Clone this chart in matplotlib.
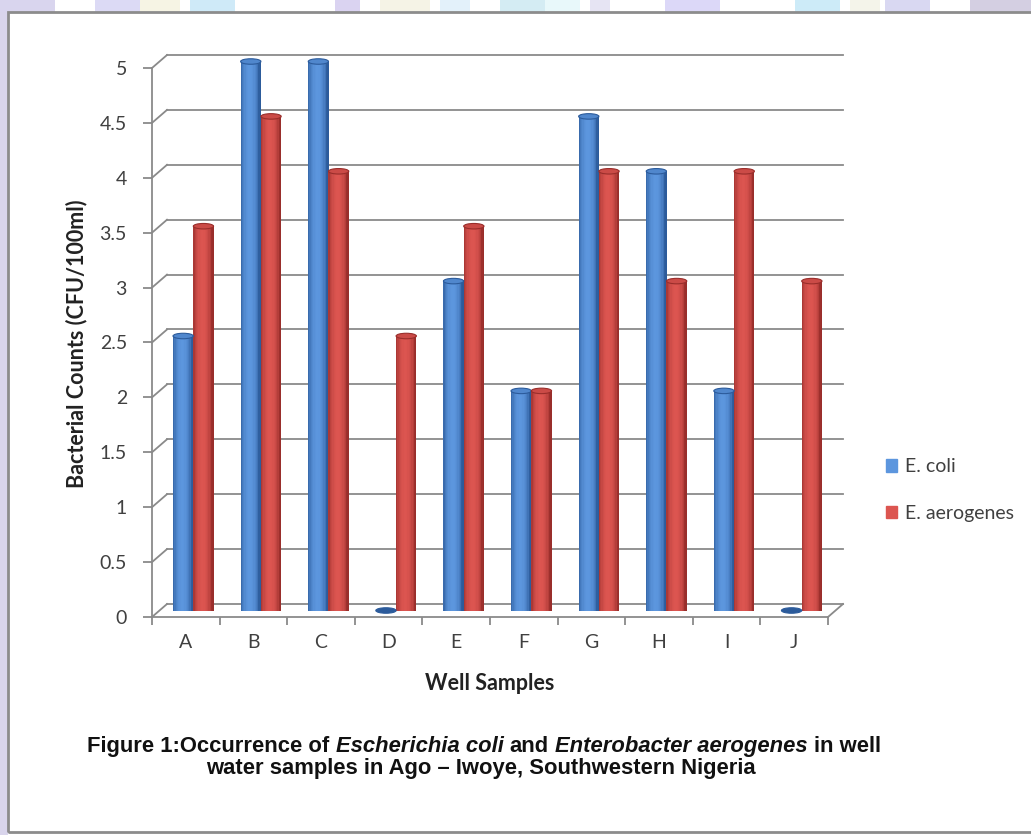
import numpy as np
import matplotlib.pyplot as plt
from matplotlib.colors import to_rgb
from matplotlib.patches import Ellipse, Rectangle, Patch
from matplotlib.transforms import Affine2D, IdentityTransform

# Bacterial counts per well (CFU/100ml)
wells = ['A', 'B', 'C', 'D', 'E', 'F', 'G', 'H', 'I', 'J']
e_coli = [2.5, 5, 5, 0, 3, 2, 4.5, 4, 2, 0]
e_aerogenes = [3.5, 4.5, 4, 2.5, 3.5, 2, 4, 3, 4, 3]
series_names = ['E. coli', 'E. aerogenes']
y_ticks = np.arange(0, 5.01, 0.5)
y_tick_labels = ['0', '0.5', '1', '1.5', '2', '2.5', '3', '3.5', '4', '4.5', '5']

W, H = 1031, 835
GRID = '#8a8a8a'
TXT = '#404040'
FONT = ['Lato', 'DejaVu Sans']

fig = plt.figure(figsize=(W / 100, H / 100), dpi=100)
fig.patch.set_facecolor('white')

# page decoration: pastel strip along the top and left edge, then the frame
stripes = [(0, 55, '#d9d5ee'), (95, 140, '#dcdaf5'), (140, 180, '#f6f4e4'),
           (190, 235, '#cfeaf8'), (335, 360, '#dad3f1'), (380, 430, '#f5f3e6'),
           (440, 470, '#e3f1fa'), (500, 545, '#d4ecf3'), (545, 580, '#e8f8fa'),
           (590, 610, '#e6e4f3'), (665, 720, '#dcd8f8'), (795, 840, '#cdebf8'),
           (850, 880, '#f4f4ea'), (885, 930, '#d9d8f2'), (970, 1031, '#d4cfe2')]
for x0, x1, c in stripes:
    fig.patches.append(Rectangle((x0 / W, 1 - 12 / H), (x1 - x0) / W, 12 / H,
                                 transform=fig.transFigure, color=c, lw=0))
fig.patches.append(Rectangle((0, 0), 8 / W, 1 - 12 / H, transform=fig.transFigure,
                             color='#d9d5ec', lw=0))
fig.patches.append(Rectangle((8 / W, 3 / H), 1.2, 1 - 15 / H, transform=fig.transFigure,
                             fill=False, ec='#8c8c8c', lw=2))

ax = fig.add_axes([152 / W, (H - 617) / H, 676 / W, 549 / H])
ax.set_xlim(-0.5, 9.5)
ax.set_ylim(0, 5)
ax.set_facecolor('none')
for s in ['top', 'right']:
    ax.spines[s].set_visible(False)
for s in ['left', 'bottom']:
    ax.spines[s].set_color(GRID)
    ax.spines[s].set_linewidth(1.3)

ax.set_yticks(y_ticks)
ax.set_yticklabels(y_tick_labels)
ax.set_xticks(range(len(wells)))
ax.set_xticklabels(wells)
ax.set_xticks(np.arange(-0.5, 9.6, 1), minor=True)
ax.tick_params(axis='y', length=6.5, width=1.3, color=GRID, pad=11.5, labelsize=14, labelcolor=TXT)
ax.tick_params(axis='x', which='major', length=0, pad=12, labelsize=14, labelcolor=TXT)
ax.tick_params(axis='x', which='minor', length=6, width=1.3, color=GRID)
for lab in ax.get_xticklabels() + ax.get_yticklabels():
    lab.set_fontfamily(FONT)

# depth offsets (pixels) for the back wall and the bar row
DX, DY = 15, 13
back = ax.transData + Affine2D().translate(DX, DY)
mid = ax.transData + Affine2D().translate(DX / 2, DY / 2)

for v in y_ticks:
    ax.plot([-0.5, 9.5], [v, v], transform=back, color=GRID, lw=1.3, clip_on=False, zorder=1)
    fx, fy = ax.transData.transform((-0.5, v))
    ax.plot([fx, fx + DX], [fy, fy + DY], transform=IdentityTransform(),
            color=GRID, lw=1.3, clip_on=False, zorder=1)
fx, fy = ax.transData.transform((9.5, 0))
ax.plot([fx, fx + DX], [fy, fy + DY], transform=IdentityTransform(),
        color=GRID, lw=1.3, clip_on=False, zorder=1)

# cylinder-like columns: thin vertical slices shaded dark-light-dark
palette = {
    'E. coli': ('#2c5b9b', '#5c96de'),
    'E. aerogenes': ('#992e2b', '#dc5550'),
}
bar_w = 0.3
n_slices = 16
t = (np.arange(n_slices) + 0.5) / n_slices
shade = np.sin(np.pi * np.clip(t * 1.1, 0, 1)) ** 0.6


def mix(c0, c1, s):
    a = np.array(to_rgb(c0))
    b = np.array(to_rgb(c1))
    return tuple(a * (1 - s) + b * s)


x = np.arange(len(wells))
for k, (name, vals) in enumerate(zip(series_names, [e_coli, e_aerogenes])):
    dark, light = palette[name]
    offset = (k - 0.5) * bar_w
    cols = [mix(dark, light, s) for s in shade]
    for xi, h in zip(x, vals):
        left = xi + offset - bar_w / 2
        xs = left + (np.arange(n_slices) + 0.5) * bar_w / n_slices
        ax.bar(xs, [h] * n_slices, width=bar_w / n_slices * 1.05, color=cols,
               lw=0, transform=mid, clip_on=False, zorder=3)
        cap = Ellipse((xi + offset, h), bar_w, 0.05, transform=mid,
                      fc=mix(dark, light, 0.75) if h > 0 else dark,
                      ec=dark, lw=0.8, clip_on=False, zorder=4)
        ax.add_patch(cap)

# legend
handles = [Patch(color=palette[n][1]) for n in series_names]
leg = fig.legend(handles, series_names, loc='center left',
                 bbox_to_anchor=(868 / W, 1 - 490 / H), frameon=False,
                 handlelength=0.6, handleheight=0.6, handletextpad=0.4,
                 labelspacing=1.5, prop={'family': FONT, 'size': 14})
for txt in leg.get_texts():
    txt.set_color(TXT)

fig.text(77 / W, 1 - 344 / H, 'Bacterial Counts (CFU/100ml)', rotation=90,
         ha='center', va='center', fontsize=15.5, fontweight='bold',
         family=FONT, color='#222222')
fig.text(490 / W, 1 - 684 / H, 'Well Samples', ha='center', va='center',
         fontsize=15.5, fontweight='bold', family=FONT, color='#222222')

# two-line caption with italic species names, all pieces on one baseline
cap_kw = dict(fontsize=15.8, fontweight='bold', color='#111111', va='baseline',
              family=['Liberation Sans', 'DejaVu Sans'])
renderer = fig.canvas.get_renderer()


def text_width(s, style='normal'):
    tt = fig.text(0, 0, s, style=style, **cap_kw)
    w = tt.get_window_extent(renderer).width
    tt.remove()
    return w


space = text_width('x x') - text_width('xx')
pieces = [('Figure 1:Occurrence of', 'normal'), ('Escherichia coli', 'italic'),
          ('and', 'normal'), ('Enterobacter aerogenes', 'italic'), ('in well', 'normal')]
widths = [text_width(s, st) for s, st in pieces]
total = sum(widths) + space * (len(pieces) - 1)
xpos = 484 - total / 2
for (s, st), w in zip(pieces, widths):
    fig.text(xpos / W, 1 - 752 / H, s, style=st, **cap_kw)
    xpos += w + space
fig.text(481 / W, 1 - 774 / H, 'water samples in Ago \u2013 Iwoye, Southwestern Nigeria',
         ha='center', **cap_kw)

fig.savefig('out.png', dpi=100)
